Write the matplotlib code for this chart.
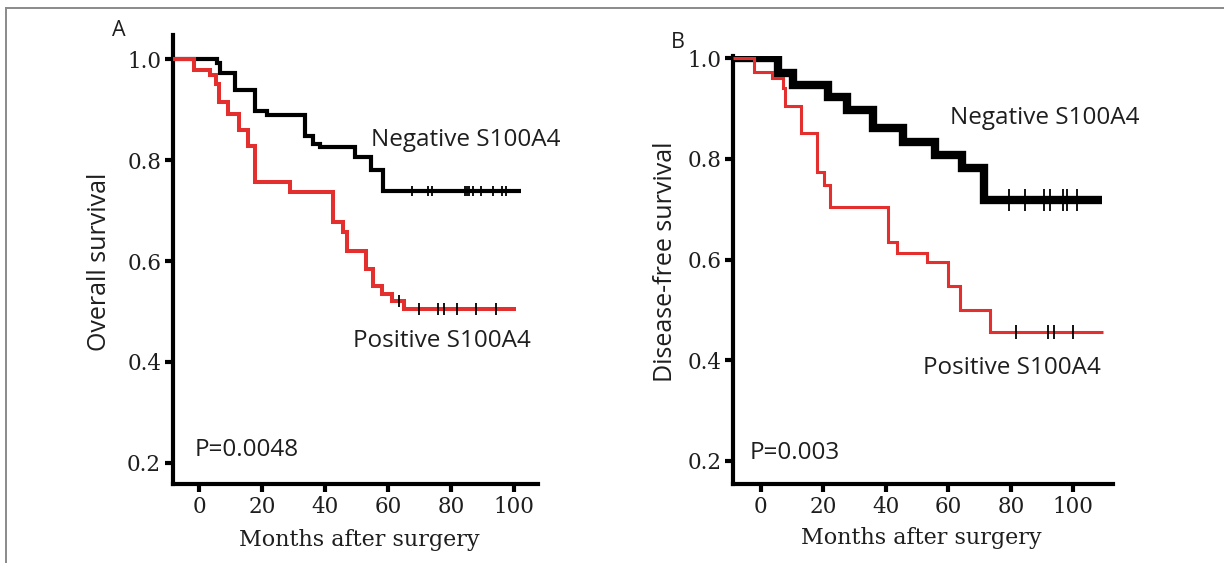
import matplotlib
matplotlib.use('Agg')
import matplotlib.pyplot as plt
from matplotlib.lines import Line2D
import numpy as np

# ---------------- data ----------------
# Panel A: overall survival
a_neg_times = [5.5, 6.6, 11.3, 17.7, 21.4, 33.5, 36.2, 38.3, 49.4, 54.4, 58.4]
a_neg_surv = [0.992, 0.973, 0.938, 0.898, 0.890, 0.847, 0.832, 0.826, 0.807, 0.781, 0.738]
a_neg_end = 102.2
a_neg_censor = [67.5, 72.8, 74.0, 84.4, 85.0, 85.7, 87.1, 89.5, 93.4, 96.3, 97.4]

a_pos_times = [-1.6, 3.4, 5.2, 6.3, 9.2, 12.5, 15.6, 17.8, 28.8, 42.6, 45.5, 46.8,
               53.1, 55.3, 58.0, 61.1, 65.1]
a_pos_surv = [0.978, 0.968, 0.951, 0.915, 0.891, 0.859, 0.828, 0.757, 0.737, 0.678,
              0.658, 0.619, 0.584, 0.550, 0.535, 0.521, 0.505]
a_pos_end = 100.6
a_pos_censor = [63.4, 69.9, 75.9, 77.7, 81.8, 87.9, 94.2]

# Panel B: disease-free survival
b_neg_times = [5.6, 10.4, 21.6, 27.5, 36.0, 45.6, 55.8, 64.3, 71.3]
b_neg_surv = [0.971, 0.947, 0.923, 0.898, 0.861, 0.833, 0.808, 0.782, 0.719]
b_neg_end = 109.1
b_neg_censor = [79.5, 84.5, 90.6, 92.5, 96.8, 98.1, 101.3]

b_pos_times = [-2.1, 3.7, 7.2, 7.9, 13.0, 17.9, 20.3, 22.3, 40.8, 43.5, 53.1, 59.8,
               63.8, 73.4]
b_pos_surv = [0.973, 0.960, 0.942, 0.906, 0.852, 0.775, 0.748, 0.704, 0.636, 0.613,
              0.596, 0.547, 0.500, 0.456]
b_pos_end = 109.4
b_pos_censor = [81.7, 91.8, 93.8, 99.8]

x_ticks = [0, 20, 40, 60, 80, 100]
y_ticks = [0.2, 0.4, 0.6, 0.8, 1.0]
y_ticklabels = ['0.2', '0.4', '0.6', '0.8', '1.0']

# ---------------- styling ----------------
RED = '#E3302E'
TXT = '#1e1e1e'
SANS = ['Open Sans', 'DejaVu Sans']
SERIF = ['DejaVu Serif']

W, H = 1224, 563
fig = plt.figure(figsize=(W / 100, H / 100), dpi=100)
fig.patch.set_facecolor('white')


def px_axes(l, r, b, t):
    return [l / W, 1 - b / H, (r - l) / W, (b - t) / H]


axA = fig.add_axes(px_axes(173, 538, 484, 35))
axB = fig.add_axes(px_axes(733.3, 1113.3, 484, 56))

axA.set_xlim(-8.36, 107.6)
axA.set_ylim(0.158, 1.048)
axB.set_xlim(-8.8, 112.8)
axB.set_ylim(0.1543, 1.0046)


def km(ax, times, surv, end, censor, color, lw, ms):
    x0 = ax.get_xlim()[0]
    xs = np.r_[x0, times, end]
    ys = np.r_[1.0, surv, surv[-1]]
    ax.step(xs, ys, where='post', color=color, lw=lw,
            solid_joinstyle='miter', solid_capstyle='butt', zorder=3)
    idx = np.searchsorted(np.asarray(times), np.asarray(censor), side='right') - 1
    cy = np.where(idx >= 0, np.asarray(surv)[np.clip(idx, 0, None)], 1.0)
    ax.plot(censor, cy, linestyle='none', marker='|', ms=ms, mew=1.3,
            color='black', zorder=4)


km(axA, a_neg_times, a_neg_surv, a_neg_end, a_neg_censor, 'black', 3.0, 7.5)
km(axA, a_pos_times, a_pos_surv, a_pos_end, a_pos_censor, RED, 2.9, 8.0)
km(axB, b_neg_times, b_neg_surv, b_neg_end, b_neg_censor, 'black', 6.0, 15.5)
km(axB, b_pos_times, b_pos_surv, b_pos_end, b_pos_censor, RED, 2.2, 9.5)

for ax in (axA, axB):
    for s in ('top', 'right'):
        ax.spines[s].set_visible(False)
    for s in ('left', 'bottom'):
        ax.spines[s].set_linewidth(3.0)
        ax.spines[s].set_color('black')
    ax.set_xticks(x_ticks)
    ax.set_yticks(y_ticks)
    ax.set_yticklabels(y_ticklabels)
    ax.tick_params(direction='out', length=5.5, width=3.0, color='black',
                   labelsize=15.5, labelcolor=TXT, pad=3)
    for lab in ax.get_xticklabels() + ax.get_yticklabels():
        lab.set_family(SERIF)
    ax.set_facecolor('none')

# annotations
FS = 17.5
axA.text(54.5, 0.840, 'Negative S100A4', family=SANS, fontsize=FS, color=TXT,
         ha='left', va='center')
axA.text(48.9, 0.441, 'Positive S100A4', family=SANS, fontsize=FS, color=TXT,
         ha='left', va='center')
axA.text(-1.4, 0.226, 'P=0.0048', family=SANS, fontsize=FS, color=TXT,
         ha='left', va='center')

axB.text(60.6, 0.882, 'Negative S100A4', family=SANS, fontsize=FS, color=TXT,
         ha='left', va='center')
axB.text(52.0, 0.384, 'Positive S100A4', family=SANS, fontsize=FS, color=TXT,
         ha='left', va='center')
axB.text(-3.6, 0.216, 'P=0.003', family=SANS, fontsize=FS, color=TXT,
         ha='left', va='center')

fig.text(118.5 / W, 1 - 30.5 / H, 'A', family=SANS, fontsize=15.5, color=TXT,
         ha='center', va='center')
fig.text(677.5 / W, 1 - 42.5 / H, 'B', family=SANS, fontsize=15.5, color=TXT,
         ha='center', va='center')

fig.text(100 / W, 1 - 262 / H, 'Overall survival', family=SANS, fontsize=18,
         color=TXT, rotation=90, ha='center', va='center')
fig.text(665 / W, 1 - 262 / H, 'Disease-free survival', family=SANS, fontsize=18,
         color=TXT, rotation=90, ha='center', va='center')
fig.text(359 / W, 1 - 540 / H, 'Months after surgery', family=SERIF, fontsize=16,
         color=TXT, ha='center', va='center')
fig.text(921 / W, 1 - 538 / H, 'Months after surgery', family=SERIF, fontsize=16,
         color=TXT, ha='center', va='center')

# figure frame (top and left edges)
fig.add_artist(Line2D([6 / W, 6 / W], [0, 1 - 8 / H], transform=fig.transFigure,
                      color='#8a8a8a', lw=1.4))
fig.add_artist(Line2D([6 / W, 1], [1 - 8 / H, 1 - 8 / H], transform=fig.transFigure,
                      color='#8a8a8a', lw=1.4))

fig.savefig('out.png', dpi=100, facecolor='white')
